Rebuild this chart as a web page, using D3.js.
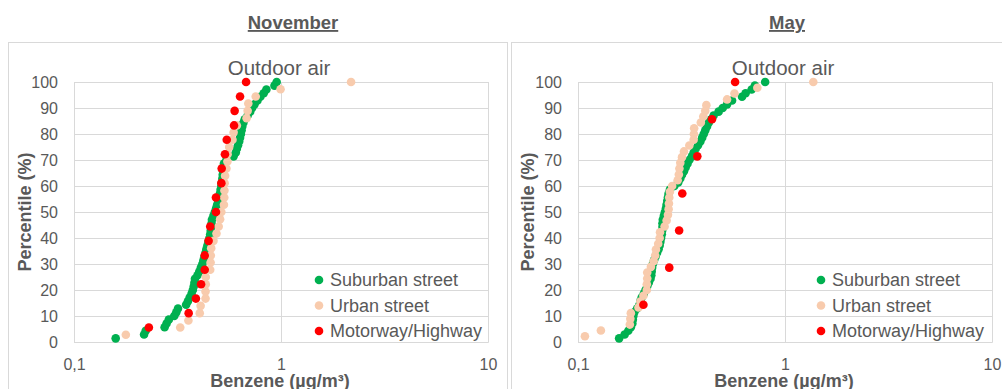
<!DOCTYPE html>
<html>
<head>
<meta charset="utf-8">
<script src="https://cdn.jsdelivr.net/npm/d3@7"></script>
<style>
  html, body { margin: 0; padding: 0; background: #fff; }
  svg { display: block; font-family: "Liberation Sans", Arial, sans-serif; }
</style>
</head>
<body>
<svg id="chart" width="1002" height="389"></svg>
<script>
// ---------- DATA ----------
const panelTitles = ["November", "May"];
const chartTitle = "Outdoor air";
const seriesNames = ["Suburban street", "Urban street", "Motorway/Highway"];
const seriesColors = ["#00B050", "#F8CBAD", "#FF0000"];
const xTickValues = [0.1, 1, 10];
const xTickLabels = ["0,1", "1", "10"];
const yTickValues = [0, 10, 20, 30, 40, 50, 60, 70, 80, 90, 100];
const xAxisTitle = "Benzene (µg/m³)";
const yAxisTitle = "Percentile (%)";

const suburbanPct = [1.4,2.9,4.3,5.7,7.1,8.6,10.0,11.4,12.9,14.3,15.7,17.1,18.6,20.0,21.4,22.9,24.3,25.7,27.1,28.6,30.0,31.4,32.9,34.3,35.7,37.1,38.6,40.0,41.4,42.9,44.3,45.7,47.1,48.6,50.0,51.4,52.9,54.3,55.7,57.1,58.6,60.0,61.4,62.9,64.3,65.7,67.1,68.6,70.0,71.4,72.9,74.3,75.7,77.1,78.6,80.0,81.4,82.9,84.3,85.7,87.1,88.6,90.0,91.4,92.9,94.3,95.7,97.1,98.6,100];

const novSuburban = [0.159,0.218,0.222,0.274,0.280,0.287,0.305,0.312,0.318,0.348,
  0.355,0.362,0.370,0.375,0.379,0.382,0.384,0.395,0.403,0.410,
  0.417,0.422,0.427,0.432,0.436,0.441,0.446,0.451,0.455,0.458,
  0.460,0.462,0.464,0.472,0.479,0.486,0.492,0.497,0.502,0.507,
  0.511,0.515,0.518,0.521,0.523,0.525,0.527,0.530,0.545,0.590,
  0.605,0.612,0.620,0.628,0.634,0.640,0.645,0.650,0.658,0.668,
  0.690,0.710,0.725,0.745,0.770,0.795,0.825,0.850,0.930,0.953];

const novUrbanPct = [2.8,5.6,8.3,11.1,13.9,16.7,19.4,22.2,25.0,27.8,30.6,33.3,36.1,38.9,41.7,44.4,47.2,50.0,52.8,55.6,58.3,61.1,63.9,66.7,69.4,72.2,75.0,77.8,80.6,83.3,86.1,88.9,91.7,94.4,97.2,100];
const novUrban = [0.178,0.326,0.357,0.405,0.409,0.432,0.432,0.433,0.433,0.455,
  0.457,0.458,0.460,0.472,0.488,0.500,0.508,0.515,0.530,0.532,
  0.533,0.534,0.537,0.545,0.551,0.552,0.562,0.583,0.590,0.612,
  0.682,0.690,0.695,0.755,0.995,2.18];

const novMotorwayPct = [5.6,11.1,16.7,22.2,27.8,33.3,38.9,44.4,50.0,55.6,61.1,66.7,72.2,77.8,83.3,88.9,94.4,100];
const novMotorway = [0.230,0.358,0.388,0.411,0.428,0.428,0.447,0.455,0.485,0.485,0.515,0.517,0.536,0.547,0.593,0.597,0.634,0.678];

const maySuburban = [0.158,0.168,0.175,0.180,0.183,0.184,0.185,0.187,0.193,0.198,
  0.200,0.203,0.208,0.212,0.216,0.220,0.224,0.226,0.227,0.228,
  0.230,0.233,0.237,0.241,0.245,0.248,0.250,0.252,0.254,0.255,
  0.256,0.256,0.257,0.260,0.263,0.266,0.268,0.270,0.272,0.274,
  0.278,0.292,0.305,0.312,0.318,0.325,0.331,0.338,0.345,0.355,
  0.362,0.370,0.380,0.390,0.398,0.405,0.412,0.420,0.428,0.440,
  0.452,0.478,0.500,0.525,0.555,0.620,0.645,0.690,0.715,0.802];

const mayUrbanPct = [2.2,4.4,6.7,8.9,11.1,13.3,15.6,17.8,20.0,22.2,24.4,26.7,28.9,31.1,33.3,35.6,37.8,40.0,42.2,44.4,46.7,48.9,51.1,53.3,55.6,57.8,60.0,62.2,64.4,66.7,68.9,71.1,73.3,75.6,77.8,80.0,82.2,84.4,86.7,88.9,91.1,93.3,95.6,97.8,100];
const mayUrban = [0.108,0.129,0.178,0.179,0.180,0.196,0.200,0.207,0.215,0.215,
  0.216,0.216,0.225,0.232,0.236,0.238,0.244,0.248,0.249,0.262,
  0.268,0.272,0.274,0.275,0.276,0.278,0.285,0.303,0.307,0.309,
  0.312,0.318,0.325,0.345,0.362,0.363,0.364,0.392,0.403,0.412,
  0.417,0.525,0.570,0.735,1.37];

const mayMotorwayPct = [14.3,28.6,42.9,57.1,71.4,85.7,100];
const mayMotorway = [0.207,0.276,0.308,0.319,0.377,0.444,0.574];

// ---------- LAYOUT ----------
const svg = d3.select("#chart");
const textColor = "#595959";
const gridColor = "#d9d9d9";

const panels = [
  { title: panelTitles[0], box: [8, 42, 500], plot: [74, 488], titleX: 293,
    series: [
      { x: novSuburban, p: suburbanPct },
      { x: novUrban, p: novUrbanPct },
      { x: novMotorway, p: novMotorwayPct } ],
    legendX: 319 },
  { title: panelTitles[1], box: [511, 42, 500], plot: [578, 992], titleX: 787,
    series: [
      { x: maySuburban, p: suburbanPct },
      { x: mayUrban, p: mayUrbanPct },
      { x: mayMotorway, p: mayMotorwayPct } ],
    legendX: 821 }
];

const plotTop = 82, plotBottom = 342;
const markerR = 4.3;

panels.forEach(pn => {
  const g = svg.append("g");
  // chart border
  g.append("rect")
    .attr("x", pn.box[0] + 0.5).attr("y", pn.box[1] + 0.5)
    .attr("width", pn.box[2] - 1).attr("height", 400)
    .attr("fill", "none").attr("stroke", gridColor).attr("stroke-width", 1);

  // panel title
  g.append("text")
    .attr("x", pn.titleX).attr("y", 29)
    .attr("text-anchor", "middle")
    .attr("font-size", 18.5).attr("font-weight", "bold")
    .attr("fill", textColor)
    .attr("text-decoration", "underline")
    .text(pn.title);

  const x = d3.scaleLog().domain([0.1, 10]).range(pn.plot);
  const y = d3.scaleLinear().domain([0, 100]).range([plotBottom, plotTop]);
  const w = pn.plot[1] - pn.plot[0];

  // y axis with gridlines
  const ya = g.append("g")
    .attr("transform", `translate(${pn.plot[0]},0)`)
    .call(d3.axisLeft(y).tickValues(yTickValues).tickSize(-w).tickPadding(16).tickFormat(d3.format("d")));
  ya.select(".domain").remove();
  ya.selectAll("line").attr("stroke", gridColor);
  ya.selectAll("text").attr("font-size", 16).attr("fill", textColor)
    .attr("font-family", "Liberation Sans, Arial, sans-serif");

  // x axis with vertical gridlines
  const xa = g.append("g")
    .attr("transform", `translate(0,${plotBottom})`)
    .call(d3.axisBottom(x).tickValues(xTickValues).tickSize(-(plotBottom - plotTop)).tickPadding(17)
      .tickFormat((d, i) => xTickLabels[i]));
  xa.select(".domain").attr("stroke", gridColor);
  xa.selectAll("line").attr("stroke", gridColor);
  xa.selectAll("text").attr("font-size", 16).attr("fill", textColor)
    .attr("font-family", "Liberation Sans, Arial, sans-serif");

  // chart title
  g.append("text")
    .attr("x", (pn.plot[0] + pn.plot[1]) / 2 - 2).attr("y", 75)
    .attr("text-anchor", "middle")
    .attr("font-size", 20.5).attr("fill", textColor)
    .text(chartTitle);

  // axis titles
  g.append("text")
    .attr("x", x(1) - 1).attr("y", 387)
    .attr("text-anchor", "middle")
    .attr("font-size", 18).attr("font-weight", "bold").attr("fill", textColor)
    .text(xAxisTitle);
  g.append("text")
    .attr("transform", `translate(${pn.box[0] + 23},${(plotTop + plotBottom) / 2}) rotate(-90)`)
    .attr("text-anchor", "middle")
    .attr("font-size", 18).attr("font-weight", "bold").attr("fill", textColor)
    .text(yAxisTitle);

  // series points
  pn.series.forEach((s, si) => {
    const pts = s.x.map((v, i) => ({ v, p: s.p[i] }));
    g.append("g").selectAll("circle").data(pts).join("circle")
      .attr("cx", d => x(d.v)).attr("cy", d => y(d.p))
      .attr("r", markerR).attr("fill", seriesColors[si]);
  });

  // legend
  const legY = [280, 305.5, 331];
  seriesNames.forEach((nm, i) => {
    g.append("circle").attr("cx", pn.legendX).attr("cy", legY[i]).attr("r", markerR).attr("fill", seriesColors[i]);
    g.append("text").attr("x", pn.legendX + 11).attr("y", legY[i]).attr("dy", "0.35em")
      .attr("font-size", 18).attr("fill", textColor).text(nm);
  });
});
</script>
</body>
</html>
